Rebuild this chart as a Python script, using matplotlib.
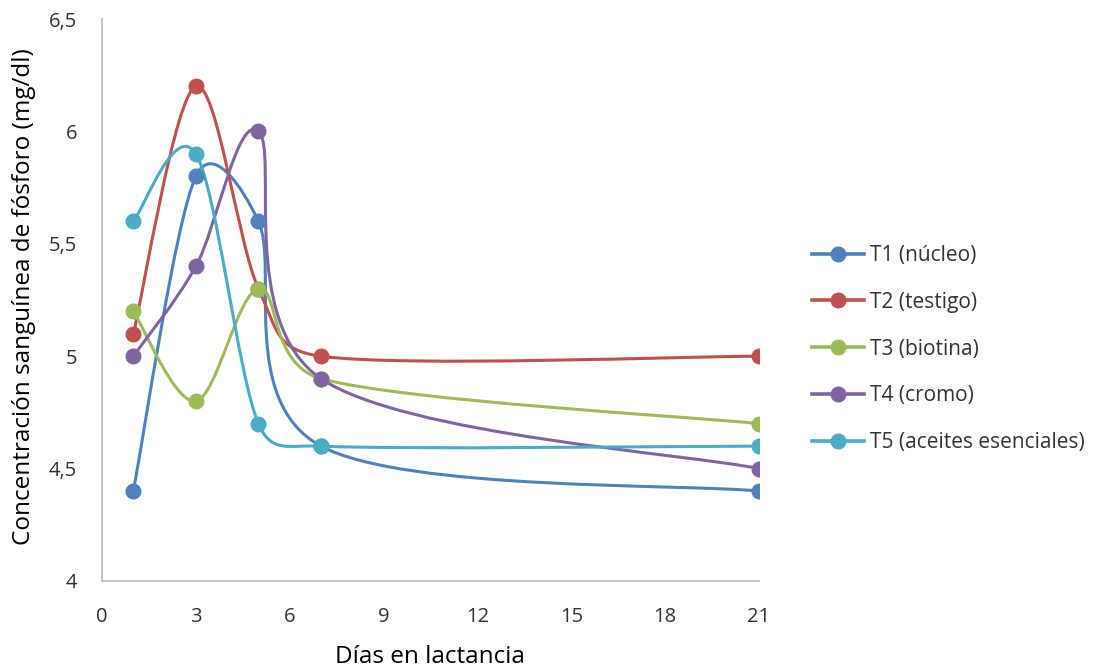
import matplotlib
matplotlib.use("Agg")
import matplotlib.pyplot as plt
from matplotlib.path import Path
from matplotlib.patches import PathPatch
from matplotlib.lines import Line2D
from matplotlib.ticker import FuncFormatter, MultipleLocator
import numpy as np

plt.rcParams['font.family'] = ['Open Sans', 'DejaVu Sans']

days = [1, 3, 5, 7, 21]
series_names = ["T1 (núcleo)", "T2 (testigo)", "T3 (biotina)", "T4 (cromo)", "T5 (aceites esenciales)"]
t1 = [4.4, 5.8, 5.6, 4.6, 4.4]
t2 = [5.1, 6.2, 5.3, 5.0, 5.0]
t3 = [5.2, 4.8, 5.3, 4.9, 4.7]
t4 = [5.0, 5.4, 6.0, 4.9, 4.5]
t5 = [5.6, 5.9, 4.7, 4.6, 4.6]
series_values = [t1, t2, t3, t4, t5]
colors = ["#4F81BD", "#C0504D", "#9BBB59", "#8064A2", "#4BACC6"]

fig = plt.figure(figsize=(10.97, 6.72), dpi=100)
ax = fig.add_axes([102/1097, 1-581/672, (759-102)/1097, (581-19)/672])
ax.set_xlim(0, 21)
ax.set_ylim(4, 6.5)


def smooth_path(xs, ys):
    # Excel-like smoothing: Bezier segments with control points computed in
    # display space, limited to half of the segment length.
    tr = ax.transData
    P = tr.transform(np.column_stack([xs, ys]).astype(float))
    n = len(P)
    verts = [P[0]]
    codes = [Path.MOVETO]
    f = 1.0 / 6.0
    for i in range(n - 1):
        p0 = P[i - 1] if i > 0 else P[i]
        p1 = P[i]
        p2 = P[i + 1]
        p3 = P[i + 2] if i + 2 < n else P[i + 1]
        d12 = np.hypot(*(p2 - p1))
        d02 = np.hypot(*(p2 - p0))
        d13 = np.hypot(*(p3 - p1))
        f0 = f
        f3 = f
        if d02 > 0 and d02 * f > d12 / 2:
            f0 = d12 / d02 / 2
        if d13 > 0 and d13 * f > d12 / 2:
            f3 = d12 / d13 / 2
        c1 = p1 + (p2 - p0) * f0
        c2 = p2 - (p3 - p1) * f3
        verts += [c1, c2, p2]
        codes += [Path.CURVE4] * 3
    verts = tr.inverted().transform(np.array(verts))
    return Path(verts, codes)


for vals, col, name in zip(series_values, colors, series_names):
    patch = PathPatch(smooth_path(days, vals), facecolor='none', edgecolor=col,
                      lw=2.2, capstyle='round', joinstyle='round', zorder=2)
    ax.add_patch(patch)
    ax.plot(days, vals, linestyle='none', marker='o', markersize=10.5,
            color=col, zorder=3)

ax.xaxis.set_major_locator(MultipleLocator(3))
ax.yaxis.set_major_locator(MultipleLocator(0.5))
ax.yaxis.set_major_formatter(FuncFormatter(lambda v, p: ('%g' % v).replace('.', ',')))
ax.tick_params(length=0, labelsize=14.5, colors='#333333')
ax.tick_params(axis='x', pad=19)
ax.tick_params(axis='y', pad=18)
for s in ['top', 'right']:
    ax.spines[s].set_visible(False)
for s in ['left', 'bottom']:
    ax.spines[s].set_color('#BFBFBF')
    ax.spines[s].set_linewidth(1.3)

fig.text(430/1097, 1-657/672, "Días en lactancia", ha='center', va='center', fontsize=17.5, color='#000000')
fig.text(24/1097, 1-297/672, "Concentración sanguínea de fósforo (mg/dl)", ha='center', va='center',
         rotation=90, fontsize=17.5, color='#000000')

handles = [Line2D([], [], color=c, lw=2.6, marker='o', markersize=10.5) for c in colors]
leg = fig.legend(handles, series_names, loc='center left', bbox_to_anchor=(812/1097, 1-349/672),
                 frameon=False, fontsize=15, handlelength=2.5, handletextpad=0.3,
                 labelspacing=1.24, labelcolor='#333333', borderpad=0, borderaxespad=0)

fig.savefig("out.png", dpi=100)
